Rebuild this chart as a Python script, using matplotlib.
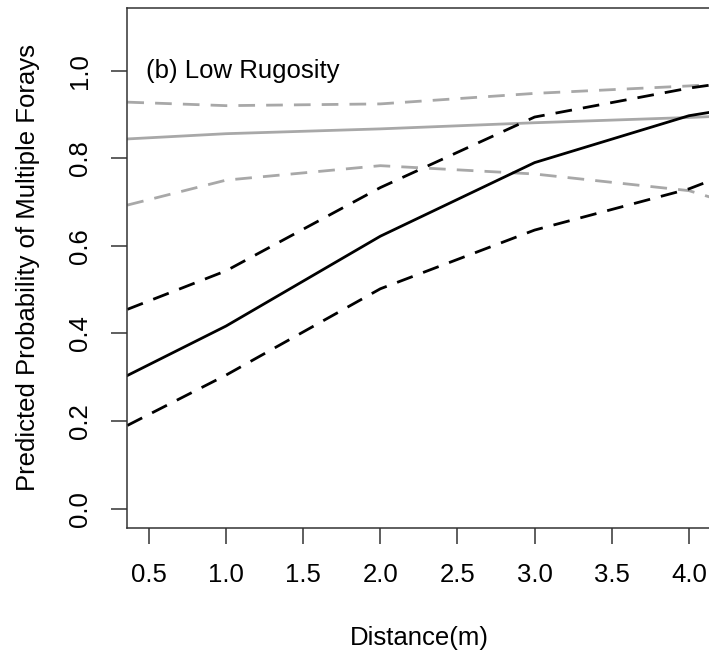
"""
Predicted probability of multiple forays against distance, low rugosity panel.
"""

import matplotlib
matplotlib.use("Agg")
import matplotlib.pyplot as plt

plt.rcParams["font.family"] = ["Liberation Sans", "DejaVu Sans"]

# distance (m) at which the fitted curves are evaluated
distance = [0.36, 1.0, 2.0, 3.0, 4.0, 4.14]

# black: fitted probability and its confidence bounds
black_fit = [0.304, 0.417, 0.622, 0.790, 0.897, 0.905]
black_upper = [0.455, 0.543, 0.733, 0.894, 0.960, 0.967]
black_lower = [0.190, 0.305, 0.502, 0.636, 0.730, 0.749]

# grey: fitted probability and its confidence bounds
grey_fit = [0.844, 0.856, 0.867, 0.881, 0.893, 0.895]
grey_upper = [0.928, 0.920, 0.924, 0.948, 0.965, 0.968]
grey_lower = [0.693, 0.750, 0.783, 0.764, 0.726, 0.711]

x_ticks = [0.5, 1.0, 1.5, 2.0, 2.5, 3.0, 3.5, 4.0]
y_ticks = [0.0, 0.2, 0.4, 0.6, 0.8, 1.0]

GREY = "#a8a8a8"
AXIS = "#333333"
DASH = (0, (6, 4))
LW = 2.0
FS = 18.5

fig = plt.figure(figsize=(7.09, 6.54), dpi=100)
ax = fig.add_axes([0.1796, 0.1927, 0.8225, 0.7958])

ax.plot(distance, grey_upper, color=GREY, lw=LW, linestyle=DASH)
ax.plot(distance, grey_lower, color=GREY, lw=LW, linestyle=DASH)
ax.plot(distance, grey_fit, color=GREY, lw=LW)
ax.plot(distance, black_upper, color="black", lw=LW, linestyle=DASH)
ax.plot(distance, black_lower, color="black", lw=LW, linestyle=DASH)
ax.plot(distance, black_fit, color="black", lw=LW)

ax.set_xlim(0.36, 4.14)
ax.set_ylim(-0.044, 1.144)

ax.set_xticks(x_ticks)
ax.set_xticklabels([f"{t:.1f}" for t in x_ticks])
ax.set_yticks(y_ticks)
ax.set_yticklabels([f"{t:.1f}" for t in y_ticks], rotation=90, va="center")

ax.tick_params(axis="both", length=11.5, width=1.1, color=AXIS,
               labelsize=FS, pad=14)
for spine in ax.spines.values():
    spine.set_color(AXIS)
    spine.set_linewidth(1.1)

ax.set_xlabel("Distance(m)", fontsize=FS, labelpad=28)
ax.set_ylabel("Predicted Probability of Multiple Forays", fontsize=FS,
              labelpad=20)

ax.text(0.48, 1.0, "(b) Low Rugosity", fontsize=FS, ha="left", va="center")

fig.savefig("out.png", dpi=100)
